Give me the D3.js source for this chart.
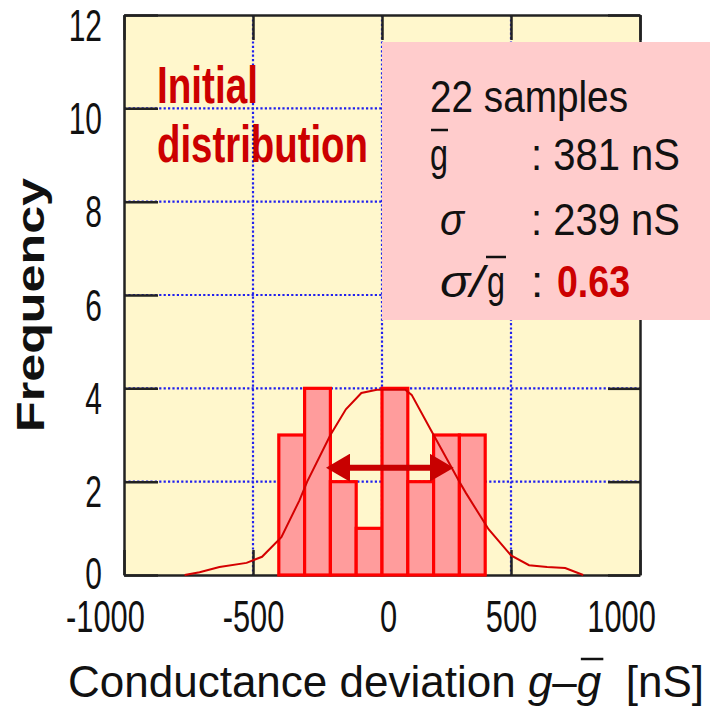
<!DOCTYPE html>
<html>
<head>
<meta charset="utf-8">
<script src="https://cdn.jsdelivr.net/npm/d3@7"></script>
<style>
  body { margin: 0; background: #fff; }
  text { font-family: "Liberation Sans", Arial, sans-serif; }
</style>
</head>
<body>
<div id="chart"></div>
<script>
// histogram: 100 nS bins, left edges
var binStarts = [-400, -300, -200, -100, 0, 100, 200, 300];
var binWidth = 100;
var counts = [3, 4, 2, 1, 4, 2, 3, 3];

// fitted distribution curve
var fitX = [-765, -707, -630, -525, -465, -390, -320, -290, -200, -140, -80, -20, 90, 115, 190, 260, 300, 325, 413, 500, 570, 640, 710, 780];
var fitY = [0, 0.06, 0.17, 0.26, 0.39, 0.81, 1.6, 2.0, 3.0, 3.55, 3.9, 3.97, 3.97, 3.86, 3.1, 2.4, 2.0, 1.76, 0.98, 0.42, 0.21, 0.17, 0.15, 0];

// spread arrow (sigma)
var spreadX = [-217, 278];
var spreadY = 2.3;

var xTicks = [-1000, -500, 0, 500, 1000];
var yTicks = [0, 2, 4, 6, 8, 10, 12];
var gridX = [-500, 0, 500];
var gridY = [2, 4, 6, 8, 10];

var sampleText = "22 samples";
var meanText = ": 381 nS";
var sigmaText = ": 239 nS";
var ratioText = "0.63";

var width = 710, height = 721;
var pLeft = 124, pRight = 640, pTop = 15, pBottom = 575;

var svg = d3.select("#chart").append("svg")
    .attr("width", width)
    .attr("height", height);

var x = d3.scaleLinear().domain([-1000, 1000]).range([pLeft, pRight]);
var y = d3.scaleLinear().domain([0, 12]).range([pBottom, pTop]);

function squeeze(sel, f) {
    sel.each(function() {
        var w = this.getComputedTextLength();
        d3.select(this).attr("textLength", w * f).attr("lengthAdjust", "spacingAndGlyphs");
    });
}
function fitTo(sel, w) {
    sel.attr("textLength", w).attr("lengthAdjust", "spacingAndGlyphs");
}

// plot background
svg.append("rect")
    .attr("x", pLeft).attr("y", pTop)
    .attr("width", pRight - pLeft).attr("height", pBottom - pTop)
    .attr("fill", "#fff7cc");

// dotted grid
svg.append("g").selectAll("line")
    .data(gridY)
  .enter().append("line")
    .attr("x1", pLeft).attr("x2", pRight)
    .attr("y1", function(d) { return y(d); })
    .attr("y2", function(d) { return y(d); })
    .attr("stroke", "#2020ee").attr("stroke-width", 2.2)
    .attr("stroke-dasharray", "2.2,2.2");
svg.append("g").selectAll("line")
    .data(gridX)
  .enter().append("line")
    .attr("y1", pTop).attr("y2", pBottom)
    .attr("x1", function(d) { return x(d); })
    .attr("x2", function(d) { return x(d); })
    .attr("stroke", "#2020ee").attr("stroke-width", 2.2)
    .attr("stroke-dasharray", "2.2,2.2");

// axes (ticks point inward)
var yAxisL = svg.append("g")
    .attr("transform", "translate(" + pLeft + ",0)")
    .call(d3.axisLeft(y).tickValues(yTicks).tickSize(-34).tickSizeOuter(0).tickPadding(22));
var yAxisR = svg.append("g")
    .attr("transform", "translate(" + pRight + ",0)")
    .call(d3.axisRight(y).tickValues(yTicks).tickSize(-32).tickSizeOuter(0).tickFormat(""));
var xAxisB = svg.append("g")
    .attr("transform", "translate(0," + pBottom + ")")
    .call(d3.axisBottom(x).tickValues(xTicks).tickSize(-25).tickSizeOuter(0)
        .tickFormat(function(d) { return String(d); }));
var xAxisT = svg.append("g")
    .attr("transform", "translate(0," + pTop + ")")
    .call(d3.axisTop(x).tickValues(xTicks).tickSize(-25).tickSizeOuter(0).tickFormat(""));

[yAxisL, yAxisR, xAxisB, xAxisT].forEach(function(a) {
    a.selectAll("path.domain").attr("stroke", "#222").attr("stroke-width", 2.5);
    a.selectAll(".tick line").attr("stroke", "#222").attr("stroke-width", 2.5);
    a.attr("font-family", null).attr("font-size", null);
});

// the zero label sits a little higher, clear of the x labels
yAxisL.selectAll(".tick text")
    .attr("font-size", 44).attr("fill", "#111")
    .attr("dy", function(d) { return d === 0 ? 13 : 25; })
    .call(squeeze, 0.68);
// end labels are pulled slightly left, as in the original
xAxisB.selectAll(".tick text")
    .attr("font-size", 44).attr("fill", "#111")
    .attr("y", 57).attr("dy", 0)
    .attr("dx", function(d) { return Math.abs(d) === 1000 ? -19 : (d === 0 ? 6 : 0); })
    .call(squeeze, 0.7);

// histogram bars
svg.append("g").selectAll("rect")
    .data(counts)
  .enter().append("rect")
    .attr("x", function(d, i) { return x(binStarts[i]); })
    .attr("y", function(d) { return y(d); })
    .attr("width", function(d, i) { return x(binStarts[i] + binWidth) - x(binStarts[i]); })
    .attr("height", function(d) { return y(0) - y(d); })
    .attr("fill", "#ff9c9c")
    .attr("stroke", "#ff0000")
    .attr("stroke-width", 3.2);

// fitted curve
var line = d3.line()
    .x(function(d) { return x(d[0]); })
    .y(function(d) { return y(d[1]); });
svg.append("path")
    .datum(d3.zip(fitX, fitY))
    .attr("d", line)
    .attr("fill", "none")
    .attr("stroke", "#d40000")
    .attr("stroke-width", 2);

// double arrow
var defs = svg.append("defs");
defs.append("marker")
    .attr("id", "head")
    .attr("viewBox", "0 0 24 28")
    .attr("refX", 12).attr("refY", 14)
    .attr("markerWidth", 24).attr("markerHeight", 28)
    .attr("markerUnits", "userSpaceOnUse")
    .attr("orient", "auto-start-reverse")
  .append("path")
    .attr("d", "M0,0 L24,14 L0,28 Z")
    .attr("fill", "#c80000");
svg.append("line")
    .attr("x1", x(spreadX[0]) + 12).attr("x2", x(spreadX[1]) - 12)
    .attr("y1", y(spreadY)).attr("y2", y(spreadY))
    .attr("stroke", "#c80000").attr("stroke-width", 6)
    .attr("marker-start", "url(#head)")
    .attr("marker-end", "url(#head)");

// caption
svg.append("text")
    .attr("x", 157).attr("y", 103)
    .attr("font-size", 52).attr("font-weight", "bold").attr("fill", "#cc0000")
    .text("Initial")
    .call(fitTo, 101);
svg.append("text")
    .attr("x", 157).attr("y", 162)
    .attr("font-size", 52).attr("font-weight", "bold").attr("fill", "#cc0000")
    .text("distribution")
    .call(fitTo, 211);

// statistics box
svg.append("rect")
    .attr("x", 382).attr("y", 42)
    .attr("width", 328).attr("height", 278)
    .attr("fill", "#ffcccc");

var stat = svg.append("g").attr("font-size", 44).attr("fill", "#111");
stat.append("text").attr("x", 430).attr("y", 112).text(sampleText).call(fitTo, 198);

stat.append("text").attr("x", 430).attr("y", 170).text("g").call(fitTo, 18);
stat.append("line").attr("x1", 431).attr("x2", 448).attr("y1", 130).attr("y2", 130)
    .attr("stroke", "#111").attr("stroke-width", 2.5);
stat.append("text").attr("x", 531).attr("y", 170).text(meanText).call(fitTo, 149);

stat.append("text").attr("x", 440).attr("y", 235).attr("font-style", "italic").text("σ").call(fitTo, 24);
stat.append("text").attr("x", 531).attr("y", 235).text(sigmaText).call(fitTo, 149);

stat.append("text").attr("x", 440).attr("y", 297).attr("font-style", "italic").text("σ/").call(fitTo, 44);
stat.append("text").attr("x", 487).attr("y", 297).text("g").call(fitTo, 18);
stat.append("line").attr("x1", 486).attr("x2", 506).attr("y1", 257).attr("y2", 257)
    .attr("stroke", "#111").attr("stroke-width", 2.5);
stat.append("text").attr("x", 531).attr("y", 297).text(":");
stat.append("text").attr("x", 557).attr("y", 297)
    .attr("font-weight", "bold").attr("fill", "#cc0000")
    .text(ratioText).call(fitTo, 73);

// axis titles
var xt = svg.append("text")
    .attr("x", 68).attr("y", 697)
    .attr("font-size", 44).attr("fill", "#111")
    .style("white-space", "pre");
xt.append("tspan").text("Conductance deviation ");
xt.append("tspan").attr("font-style", "italic").text("g");
xt.append("tspan").text("–");
xt.append("tspan").attr("font-style", "italic").text("g");
xt.append("tspan").text("  [nS]");
var node = xt.node();
var gx0 = node.getStartPositionOfChar(24).x, gx1 = node.getEndPositionOfChar(24).x;
svg.append("line")
    .attr("x1", gx0 + 4).attr("x2", gx1 + 2)
    .attr("y1", 659).attr("y2", 659)
    .attr("stroke", "#111").attr("stroke-width", 2.5);

svg.append("text")
    .attr("transform", "translate(44,305) rotate(-90)")
    .attr("text-anchor", "middle")
    .attr("font-size", 38).attr("font-weight", "bold").attr("fill", "#111")
    .text("Frequency")
    .call(fitTo, 254);
</script>
</body>
</html>
